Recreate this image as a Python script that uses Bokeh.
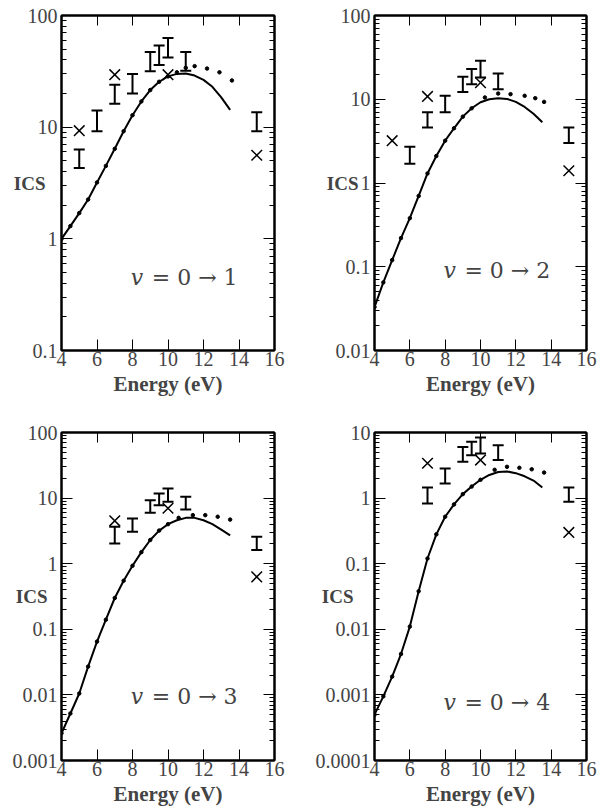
from bokeh.plotting import figure
from bokeh.layouts import gridplot
from bokeh.models import (FixedTicker, LogAxis, LinearAxis, Whisker, TeeHead,
                          ColumnDataSource, Label, CustomJSTickFormatter, Range1d)
from bokeh.embed import file_html
from bokeh.resources import INLINE

# ---------------- data ----------------
energy_ticks = [4, 6, 8, 10, 12, 14, 16]
energy_grid = [4.0, 4.5, 5.0, 5.5, 6.0, 6.5, 7.0, 7.5, 8.0, 8.5,
               9.0, 9.5, 10.0, 10.5, 11.0, 11.5, 12.0, 12.5, 13.0, 13.5]

# v = 0 -> 1
solid_01 = [1.0, 1.3, 1.7, 2.25, 3.2, 4.5, 6.4, 9.2, 12.8, 17, 21.5, 25.5, 28.5, 30, 30.3, 29, 26.5, 23, 18.5, 14.3]
dot_e_01 = [4.0, 4.5, 5.0, 5.5, 6.0, 6.5, 7.0, 7.5, 8.0, 8.5, 9.0, 9.5, 10.0, 10.5, 11.0, 11.5, 12.2, 12.9, 13.6]
dot_v_01 = [1.0, 1.3, 1.7, 2.25, 3.2, 4.5, 6.4, 9.2, 12.8, 17, 21.5, 25.5, 28.5, 31, 34, 35.2, 33.5, 31, 26.2]
bar_e_01 = [5, 6, 7, 8, 9, 9.5, 10, 11, 15]
bar_lo_01 = [4.3, 9.2, 16.2, 20, 31.7, 36, 42, 32, 9.2]
bar_hi_01 = [6.3, 14.1, 24, 30, 47, 54, 63, 47, 13.6]
cross_e_01 = [5, 7, 10, 15]
cross_v_01 = [9.3, 29.5, 29.5, 5.6]
yticks_01 = [0.1, 1, 10, 100]

# v = 0 -> 2
solid_02 = [0.033, 0.065, 0.12, 0.22, 0.38, 0.7, 1.3, 2.1, 3.2, 4.5, 6.2, 7.8, 9.2, 10.0, 10.3, 10.1, 9.3, 8.1, 6.7, 5.3]
dot_e_02 = [4.0, 4.5, 5.0, 5.5, 6.0, 6.5, 7.0, 7.5, 8.0, 8.5, 9.0, 9.5, 10.25, 11.0, 11.7, 12.5, 13.1, 13.6]
dot_v_02 = [0.033, 0.065, 0.12, 0.22, 0.38, 0.7, 1.3, 2.1, 3.2, 4.5, 6.2, 7.8, 10.5, 11.7, 11.5, 11.0, 10.3, 9.3]
bar_e_02 = [6, 7, 8, 9, 9.5, 10, 11, 15]
bar_lo_02 = [1.7, 4.6, 7.0, 12.2, 15.1, 18.2, 13.2, 3.0]
bar_hi_02 = [2.7, 7.0, 11, 18.5, 22.9, 28.8, 20.3, 4.6]
cross_e_02 = [5, 7, 10, 15]
cross_v_02 = [3.2, 10.8, 15.8, 1.4]
yticks_02 = [0.01, 0.1, 1, 10, 100]

# v = 0 -> 3
solid_03 = [0.0026, 0.0052, 0.0105, 0.027, 0.065, 0.14, 0.3, 0.55, 0.93, 1.5, 2.3, 3.2, 4.0, 4.6, 5.0, 5.0, 4.6, 4.0, 3.3, 2.7]
dot_e_03 = [4.0, 4.5, 5.0, 5.5, 6.0, 6.5, 7.0, 7.5, 8.0, 8.5, 9.0, 9.5, 10.0, 10.6, 11.4, 12.1, 12.8, 13.5]
dot_v_03 = [0.0026, 0.0052, 0.0105, 0.027, 0.065, 0.14, 0.3, 0.55, 0.93, 1.5, 2.3, 3.2, 4.0, 5.0, 5.5, 5.5, 5.2, 4.7]
bar_e_03 = [7, 8, 9, 9.5, 10, 11, 15]
bar_lo_03 = [2.04, 3.07, 6.0, 7.8, 8.8, 6.7, 1.62]
bar_hi_03 = [3.66, 4.9, 9.3, 11.8, 14, 10.5, 2.57]
cross_e_03 = [7, 10, 15]
cross_v_03 = [4.5, 7.0, 0.63]
yticks_03 = [0.001, 0.01, 0.1, 1, 10, 100]

# v = 0 -> 4
solid_04 = [0.0005, 0.00095, 0.0019, 0.0042, 0.011, 0.038, 0.12, 0.28, 0.52, 0.8, 1.15, 1.5, 1.9, 2.25, 2.5, 2.55, 2.4, 2.15, 1.85, 1.45]
dot_e_04 = [4.0, 4.5, 5.0, 5.5, 6.0, 6.5, 7.0, 7.5, 8.0, 8.5, 9.0, 9.5, 10.0, 10.8, 11.5, 12.2, 12.9, 13.6]
dot_v_04 = [0.0005, 0.00095, 0.0019, 0.0042, 0.011, 0.038, 0.12, 0.28, 0.52, 0.8, 1.15, 1.5, 1.9, 2.7, 3.0, 2.9, 2.75, 2.45]
bar_e_04 = [7, 8, 9, 9.5, 10, 11, 15]
bar_lo_04 = [0.83, 1.67, 3.57, 4.5, 4.8, 3.8, 0.88]
bar_hi_04 = [1.45, 2.83, 6.0, 7.2, 8.4, 6.4, 1.45]
cross_e_04 = [7, 10, 15]
cross_v_04 = [3.4, 3.8, 0.3]
yticks_04 = [0.0001, 0.001, 0.01, 0.1, 1, 10]

transitions = ["= 0 \u2192 1", "= 0 \u2192 2", "= 0 \u2192 3", "= 0 \u2192 4"]

SERIF = "Liberation Serif"
MATH = "DejaVu Serif"


def make_panel(solid, dot_e, dot_v, bar_e, bar_lo, bar_hi, cross_e, cross_v,
               yticks, trans, label_y, ics_standoff, width, height, borders):
    bl, br, bt, bb = borders
    p = figure(width=width, height=height, y_axis_type="log",
               x_range=Range1d(4, 16), y_range=Range1d(yticks[0], yticks[-1]),
               output_backend="svg", toolbar_location=None,
               min_border_left=bl, min_border_right=br,
               min_border_top=bt, min_border_bottom=bb)
    p.grid.visible = False
    p.outline_line_color = "black"
    p.outline_line_width = 2
    p.background_fill_color = "white"
    p.border_fill_color = "white"

    xt = FixedTicker(ticks=energy_ticks)
    minors = [m * t for t in yticks[:-1] for m in range(2, 10)]
    yt = FixedTicker(ticks=yticks, minor_ticks=minors)
    fmt = CustomJSTickFormatter(code="return tick.toString();")
    blank = CustomJSTickFormatter(code="return '';")

    xa = p.xaxis[0]
    xa.ticker = xt
    xa.axis_label = "Energy (eV)"
    xa.axis_label_text_font = SERIF
    xa.axis_label_text_font_style = "bold"
    xa.axis_label_text_font_size = "21px"
    xa.axis_label_standoff = 3
    xa.major_label_text_font = SERIF
    xa.major_label_text_font_size = "20px"
    xa.major_label_standoff = 1
    xa.major_tick_in = 11
    xa.major_tick_out = 0
    xa.minor_tick_in = 0
    xa.minor_tick_out = 0
    xa.axis_line_width = 2

    ya = p.yaxis[0]
    ya.ticker = yt
    ya.formatter = fmt
    ya.major_label_text_font = SERIF
    ya.major_label_text_font_size = "20px"
    ya.major_label_standoff = 4
    ya.major_tick_in = 11
    ya.major_tick_out = 0
    ya.minor_tick_in = 5
    ya.minor_tick_out = 0
    ya.axis_line_width = 2
    ya.axis_label = "ICS"
    ya.axis_label_orientation = "horizontal"
    ya.axis_label_text_font = SERIF
    ya.axis_label_text_font_style = "bold"
    ya.axis_label_text_font_size = "19px"
    ya.axis_label_standoff = ics_standoff

    top = LinearAxis(ticker=xt, formatter=blank, major_label_text_font_size="2px",
                     major_tick_in=10, major_tick_out=0, minor_tick_in=0,
                     minor_tick_out=0, major_label_standoff=0, axis_line_width=2)
    p.add_layout(top, "above")
    right = LogAxis(ticker=yt, formatter=blank, major_label_text_font_size="2px",
                    major_tick_in=11, major_tick_out=0, minor_tick_in=5,
                    minor_tick_out=0, major_label_standoff=0, axis_line_width=2)
    p.add_layout(right, "right")

    p.line(energy_grid, solid, line_width=2, color="black")
    p.scatter(dot_e, dot_v, marker="circle", size=3.5, color="black")
    src = ColumnDataSource(dict(e=bar_e, lo=bar_lo, hi=bar_hi))
    p.add_layout(Whisker(source=src, base="e", lower="lo", upper="hi",
                         line_width=2, line_color="black",
                         upper_head=TeeHead(size=11, line_width=2, line_color="black"),
                         lower_head=TeeHead(size=11, line_width=2, line_color="black")))
    p.scatter(cross_e, cross_v, marker="x", size=15, line_width=1.5, color="black")

    p.add_layout(Label(x=7.9, y=label_y, text="v", text_font=MATH,
                       text_font_style="italic", text_font_size="22px",
                       text_baseline="middle"))
    p.add_layout(Label(x=7.9, x_offset=21, y=label_y, text=trans, text_font=MATH,
                       text_font_size="22px", text_baseline="middle"))
    return p


p1 = make_panel(solid_01, dot_e_01, dot_v_01, bar_e_01, bar_lo_01, bar_hi_01,
                cross_e_01, cross_v_01, yticks_01, transitions[0], 0.45, -21,
                300, 406, (61, 26, 15, 56))
p2 = make_panel(solid_02, dot_e_02, dot_v_02, bar_e_02, bar_lo_02, bar_hi_02,
                cross_e_02, cross_v_02, yticks_02, transitions[1], 0.09, -26,
                298, 406, (74, 12, 15, 56))
p3 = make_panel(solid_03, dot_e_03, dot_v_03, bar_e_03, bar_lo_03, bar_hi_03,
                cross_e_03, cross_v_03, yticks_03, transitions[2], 0.0095, -38,
                300, 404, (61, 26, 26, 50))
p4 = make_panel(solid_04, dot_e_04, dot_v_04, bar_e_04, bar_lo_04, bar_hi_04,
                cross_e_04, cross_v_04, yticks_04, transitions[3], 0.00076, -41,
                298, 404, (74, 12, 26, 50))

layout = gridplot([[p1, p2], [p3, p4]], toolbar_location=None)
open("out.html", "w").write(file_html(layout, INLINE))
